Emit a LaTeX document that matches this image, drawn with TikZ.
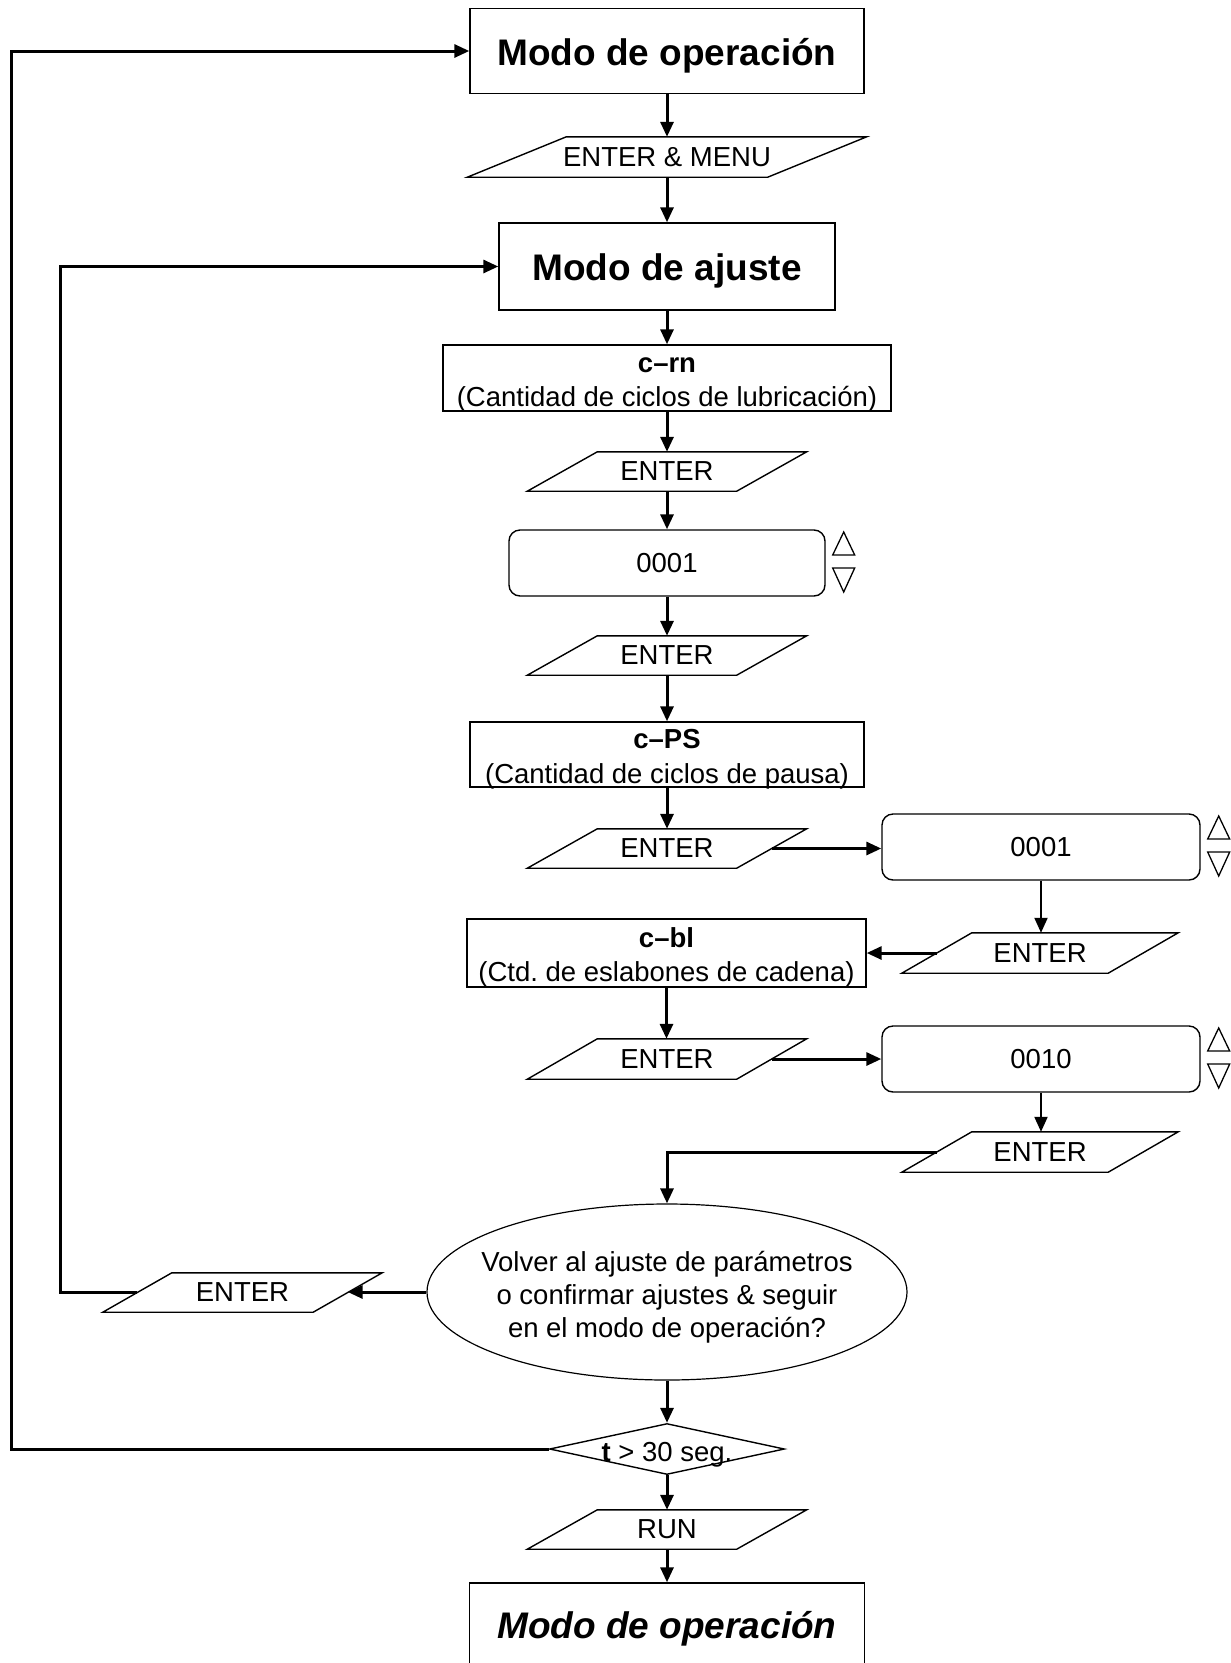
\documentclass[tikz,border=0pt]{standalone}
\usepackage{fontspec}
\setmainfont{Liberation Sans}
\usetikzlibrary{shapes.geometric,arrows.meta,calc}
\frenchspacing
\newcommand{\mytwoline}[2]{\raisebox{6pt}[0pt][0pt]{\begin{tabular}[t]{@{}c@{}}\textbf{#1}\\#2\end{tabular}}}
\newcommand{\mytitle}[2]{\raisebox{#1}[0pt][0pt]{#2}}
\begin{document}
\begin{tikzpicture}[x=1pt,y=-1pt,
  txt/.style={font=\fontsize{27.5}{34.5}\selectfont},
  box/.style={draw,line width=1.4pt,inner sep=0pt,align=center,txt},
  titlebox/.style={box,font=\fontsize{37}{44}\selectfont\bfseries},
  vbox/.style={box,rounded corners=11pt},
  para/.style={inner sep=0pt,txt,minimum height=40pt},
  con/.style={line width=3pt,-{Triangle[length=15pt,width=13pt]}},
  thincon/.style={line width=2pt,-{Triangle[length=15pt,width=13pt]}},
  shapeline/.style={line width=1.4pt,line join=miter},
  tri/.style={line width=1.3pt,line join=miter},
]
\useasboundingbox (0,0) rectangle (1231,1663);
\clip (0,0) rectangle (1231,1663);

\node[titlebox,minimum width=394pt,minimum height=85pt] (op1) at (667,51) {\mytitle{-14pt}{Modo de operación}};
\node[para,minimum width=300pt] (em) at (667,157) {ENTER \& MENU};
\node[titlebox,minimum width=336pt,minimum height=87pt] (aj) at (667,266.5) {\mytitle{-13.5pt}{Modo de ajuste}};
\node[box,minimum width=448pt,minimum height=66pt] (crn) at (667,378) {\mytwoline{c–rn}{(Cantidad de ciclos de lubricación)}};
\node[para,minimum width=209pt,minimum height=39pt] (e1) at (667,471.5) {ENTER};
\node[vbox,minimum width=316pt,minimum height=66pt] (v1) at (667,563) {0001};
\node[para,minimum width=209pt,minimum height=39pt] (e2) at (667,655.5) {ENTER};
\node[box,minimum width=394pt,minimum height=65pt] (cps) at (667,754.5) {\mytwoline{c–PS}{(Cantidad de ciclos de pausa)}};
\node[para,minimum width=209pt,minimum height=39pt] (e3) at (667,848.5) {ENTER};
\node[vbox,minimum width=318pt,minimum height=66pt] (v2) at (1041,847) {0001};
\node[para,minimum width=206pt] (e4) at (1040,953) {ENTER};
\node[box,minimum width=399pt,minimum height=68pt] (cbl) at (666.5,953) {\mytwoline{c–bl}{(Ctd. de eslabones de cadena)}};
\node[para,minimum width=209pt] (e5) at (667,1059) {ENTER};
\node[vbox,minimum width=318pt,minimum height=66pt] (v3) at (1041,1059) {0010};
\node[para,minimum width=206pt] (e6) at (1040,1152) {ENTER};
\node[ellipse,draw,line width=1.2pt,inner sep=0pt,minimum width=480pt,minimum height=176pt,font=\fontsize{27.5}{33}\selectfont] (ell) at (667,1292)
  {\makebox[0pt]{\raisebox{21pt}[0pt][0pt]{\begin{tabular}[t]{@{}c@{}}Volver al ajuste de parámetros\\o confirmar ajustes \& seguir\\en el modo de operación?\end{tabular}}}};
\node[para,minimum width=210pt,minimum height=39pt] (e7) at (242.5,1292.5) {ENTER};
\node[diamond,draw,line width=1.4pt,inner sep=0pt,minimum width=235pt,minimum height=51pt,txt] (dia) at (667,1449) {\makebox[0pt]{\raisebox{-12.7pt}[0pt][0pt]{\textbf{t} > 30 seg.}}};
\node[para,minimum width=209pt,minimum height=39pt] (run) at (667,1529.5) {RUN};
\node[titlebox,minimum width=395pt,minimum height=85pt,font=\fontsize{37}{44}\selectfont\bfseries\itshape] (op2) at (667,1625.5) {\mytitle{-12.5pt}{Modo de operación}};

\coordinate (l1) at (11,0);
\coordinate (l2) at (60,0);

% parallelograms
\foreach \n/\s in {em/99,e1/70,e2/70,e3/70,e4/70,e5/70,e6/70,e7/69,run/70}
  \draw[shapeline] ([xshift=-\s*0.5pt]\n.south west) -- ([xshift=-\s*0.5pt]\n.south east)
     -- ([xshift=\s*0.5pt]\n.north east) -- ([xshift=\s*0.5pt]\n.north west) -- cycle;

% up/down triangles
\foreach \v in {v1,v2,v3} {
  \draw[tri] ($(\v.east)+(7,-8)$) -- ($(\v.east)+(29,-8)$) -- ($(\v.east)+(18,-31)$) -- cycle;
  \draw[tri] ($(\v.east)+(7,5)$) -- ($(\v.east)+(29,5)$) -- ($(\v.east)+(18,29)$) -- cycle;
}

% connectors
\draw[con] (op1.south) -- (em.north);
\draw[con] (em.south) -- (aj.north);
\draw[con] (aj.south) -- (crn.north);
\draw[con] (crn.south) -- (e1.north);
\draw[con] (e1.south) -- (v1.north);
\draw[con] (v1.south) -- (e2.north);
\draw[con] (e2.south) -- (cps.north);
\draw[con] (cps.south) -- (e3.north);
\draw[con] (e3.east) -- (e3.east -| v2.west);
\draw[thincon] (v2.south) -- (v2.south |- e4.north);
\draw[con] (e4.west) -- (cbl.east);
\draw[con] (cbl.south) -- (cbl.south |- e5.north);
\draw[con] (e5.east) -- (v3.west);
\draw[thincon] (v3.south) -- (v3.south |- e6.north);
\draw[con] (e6.west) -| (ell.north);
\draw[con] (ell.west) -- (ell.west -| e7.east);
\draw[con] (e7.west) -- (e7.west -| l2) |- (aj.west);
\draw[con] (ell.south) -- (dia.north);
\draw[con] (dia.west) -- (dia.west -| l1) |- (op1.west);
\draw[con] (dia.south) -- (run.north);
\draw[con] (run.south) -- (op2.north);
\end{tikzpicture}
\end{document}
